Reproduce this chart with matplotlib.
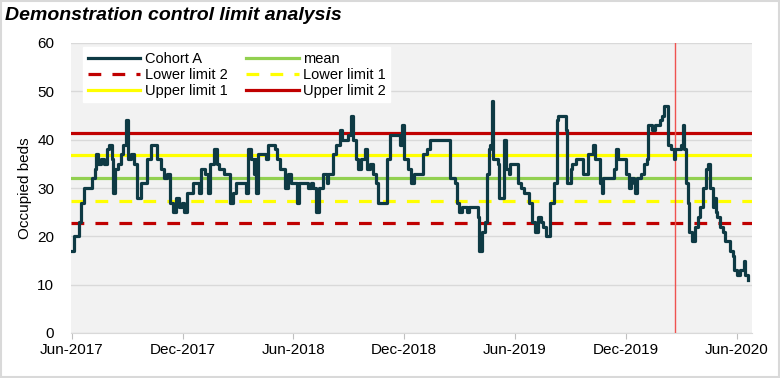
import matplotlib
matplotlib.use("Agg")
import matplotlib.pyplot as plt
import matplotlib.dates as mdates
import numpy as np
import pandas as pd
from matplotlib.patches import Rectangle

plt.rcParams['font.family'] = ['Liberation Sans', 'DejaVu Sans']

start_date = pd.Timestamp('2017-06-01')
# day offsets (from start_date) at which the cohort value changes, and the values
day_offsets = [0, 4, 13, 16, 20, 33, 38, 41, 44, 49, 54, 59, 62, 66, 69, 72, 77, 82, 85, 90,
               93, 98, 103, 107, 115, 125, 130, 141, 148, 153, 157, 162, 167, 172, 177, 182, 185, 190, 200, 210,
               213, 220, 225, 228, 235, 239, 243, 251, 261, 266, 271, 287, 290, 295, 300, 302, 303, 307, 320, 323,
               335, 339, 344, 351, 356, 361, 371, 374, 390, 394, 397, 403, 407, 415, 420, 423, 431, 436, 443, 446,
               456, 461, 464, 469, 472, 477, 484, 487, 492, 497, 502, 505, 520, 525, 541, 544, 548, 554, 559, 564,
               579, 585, 590, 618, 623, 631, 635, 638, 643, 651, 654, 669, 672, 676, 681, 684, 687, 690, 692, 695,
               702, 704, 712, 715, 720, 723, 731, 736, 741, 745, 753, 759, 763, 769, 774, 777, 782, 789, 794, 800,
               802, 815, 817, 822, 825, 831, 843, 851, 859, 863, 871, 874, 876, 894, 897, 900, 913, 918, 922, 927,
               928, 932, 938, 943, 948, 950, 956, 961, 969, 973, 976, 982, 987, 992, 994, 1004, 1007, 1009, 1012, 1015,
               1018, 1022, 1027, 1032, 1036, 1041, 1045, 1048, 1051, 1056, 1058, 1061, 1064, 1068, 1073, 1077, 1084, 1089, 1092, 1097,
               1102, 1107, 1110, 1114]
cohort_a = [17, 20, 23, 27, 30, 32, 34, 37, 35, 36, 35, 38, 39, 36, 29, 34, 35, 37, 39, 44,
            36, 37, 35, 28, 31, 36, 39, 36, 34, 32, 33, 27, 25, 28, 26, 27, 25, 29, 31, 29,
            34, 33, 29, 35, 38, 35, 34, 33, 27, 29, 31, 29, 38, 36, 33, 36, 29, 37, 36, 39,
            38, 36, 34, 30, 33, 31, 27, 31, 30, 31, 30, 25, 30, 33, 31, 33, 37, 39, 42, 40,
            41, 45, 40, 36, 34, 36, 38, 34, 35, 33, 31, 27, 36, 41, 39, 43, 36, 34, 31, 33,
            37, 38, 40, 40, 32, 31, 27, 25, 26, 25, 26, 24, 17, 21, 23, 33, 38, 39, 48, 36,
            35, 28, 40, 34, 33, 35, 35, 31, 30, 29, 27, 23, 21, 24, 23, 22, 20, 27, 31, 44,
            45, 42, 31, 34, 35, 36, 33, 37, 39, 36, 31, 29, 32, 34, 38, 36, 33, 30, 32, 31,
            29, 32, 33, 35, 36, 43, 42, 43, 44, 45, 47, 39, 38, 36, 38, 39, 43, 38, 31, 27,
            21, 19, 22, 24, 26, 30, 34, 35, 30, 26, 28, 25, 24, 22, 21, 19, 17, 16, 13, 12,
            13, 15, 12, 11]

mean_value = 32.1
upper_limit_1 = 36.8
lower_limit_1 = 27.4
upper_limit_2 = 41.4
lower_limit_2 = 22.8
marker_date = '2020-02-20'
y_ticks = [0, 10, 20, 30, 40, 50, 60]

dates = start_date + pd.to_timedelta(day_offsets, unit='D')

fig = plt.figure(figsize=(7.8, 3.78), dpi=100)
fig.patch.set_facecolor('white')
ax = fig.add_axes([71/780, 1-333/378, (752-71)/780, (333-43)/378])
ax.set_facecolor('#f2f2f2')

x_min = pd.Timestamp('2017-05-31')
x_max = pd.Timestamp('2020-06-26')

ax.plot(dates, cohort_a, drawstyle='steps-post', color='#0e3a44', lw=2.3, label='Cohort A', zorder=5,
        solid_joinstyle='round')
ax.axhline(lower_limit_2, color='#c00000', lw=2.3, ls=(0, (4, 3.5)), label='Lower limit 2', zorder=3)
ax.axhline(upper_limit_1, color='#ffff00', lw=2.3, label='Upper limit 1', zorder=3)
ax.axhline(mean_value, color='#92d050', lw=2.3, label='mean', zorder=3)
ax.axhline(lower_limit_1, color='#ffff00', lw=2.3, ls=(0, (4, 3.5)), label='Lower limit 1', zorder=3)
ax.axhline(upper_limit_2, color='#c00000', lw=2.3, label='Upper limit 2', zorder=3)
ax.axvline(pd.Timestamp(marker_date), color='#ef5350', lw=1.0, zorder=4)

ax.set_xlim(x_min, x_max)
ax.set_ylim(0, 60)
ax.set_yticks(y_ticks)
ax.yaxis.grid(True, color='#d9d9d9', lw=1.0)
ax.set_axisbelow(True)
ax.xaxis.set_major_locator(mdates.MonthLocator(bymonth=[6, 12], bymonthday=1))
ax.xaxis.set_major_formatter(mdates.DateFormatter('%b-%Y'))
ax.tick_params(axis='x', length=4, color='#bfbfbf', labelsize=11, pad=3)
ax.tick_params(axis='y', length=0, labelsize=11, pad=12)
for s in ['top', 'right', 'left']:
    ax.spines[s].set_visible(False)
ax.spines['bottom'].set_color('#d9d9d9')
ax.set_ylabel('Occupied beds', fontsize=11, labelpad=4)

h, l = ax.get_legend_handles_labels()
order = ['Cohort A', 'Lower limit 2', 'Upper limit 1', 'mean', 'Lower limit 1', 'Upper limit 2']
hd = dict(zip(l, h))
leg = ax.legend([hd[k] for k in order], order, ncol=2, loc='upper left',
                bbox_to_anchor=(0.018, 0.985), fontsize=10.5, frameon=True, fancybox=False,
                handlelength=3.6, handletextpad=0.3, columnspacing=1.3, labelspacing=0.15,
                borderpad=0.3, borderaxespad=0)
leg.get_frame().set_facecolor('white')
leg.get_frame().set_edgecolor('white')
leg.get_frame().set_alpha(1)

fig.text(5/780, 1-16/378, 'Demonstration control limit analysis', fontsize=14,
         fontweight='bold', fontstyle='italic', va='center', ha='left')

fig.patches.append(Rectangle((0.0015, 0.003), 0.997, 0.994, transform=fig.transFigure,
                             fill=False, edgecolor='#d9d9d9', lw=1.5))

fig.savefig('out.png', dpi=100)
